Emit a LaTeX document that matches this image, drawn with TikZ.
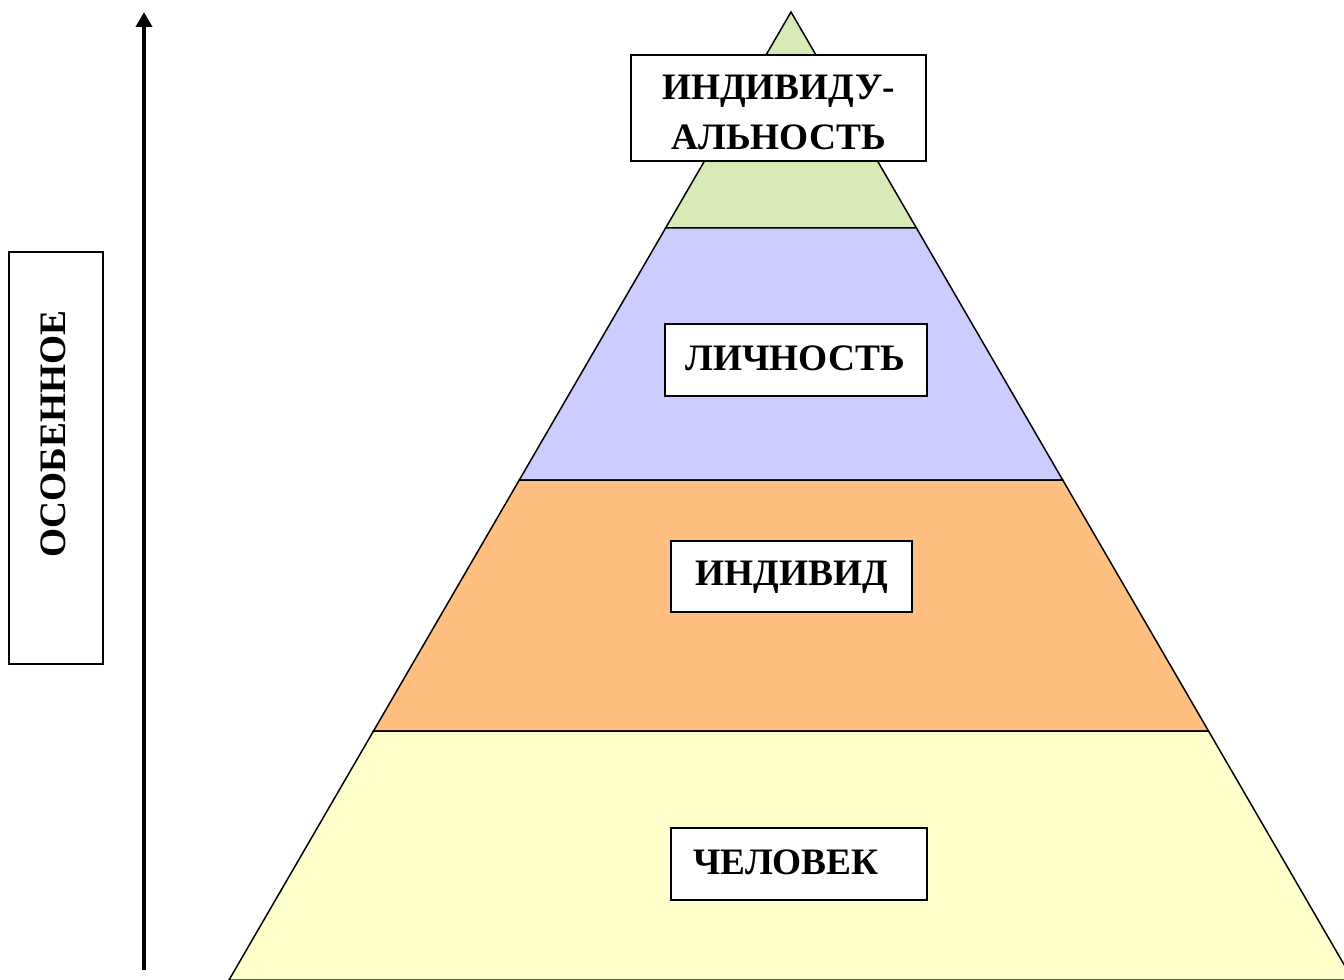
\documentclass[tikz,border=0pt]{standalone}
\usepackage{fontspec}
\setmainfont{Liberation Serif}
\usetikzlibrary{arrows.meta}
\definecolor{topgreen}{RGB}{216,234,182}
\definecolor{lilac}{RGB}{204,204,255}
\definecolor{peach}{RGB}{255,191,128}
\definecolor{cream}{RGB}{255,255,204}
\def\u{0.75pt}
\tikzset{
  layer/.style={draw=black, line width=1.5*\u, line join=miter},
  tag/.style={draw=black, fill=white, line width=2*\u, inner sep=0pt},
  word/.style={inner sep=0pt, anchor=base, font=\fontsize{28}{32}\selectfont\bfseries},
}
\begin{document}
\begin{tikzpicture}[x=\u, y=-\u]
\useasboundingbox (0,0) rectangle (1344,980);
% pyramid layers, top to bottom
\path[layer, fill=topgreen] (791,12) -- (916.4,228) -- (665.6,228) -- cycle;
\path[layer, fill=lilac] (665.6,228) -- (916.4,228) -- (1062.7,480) -- (519.3,480) -- cycle;
\path[layer, fill=peach] (519.3,480) -- (1062.7,480) -- (1208.5,731) -- (373.5,731) -- cycle;
\path[layer, fill=cream] (373.5,731) -- (1208.5,731) -- (1353,980) -- (229,980) -- cycle;
% label boxes
\node[tag, minimum width=295*\u, minimum height=106*\u] (indivbox) at (778.5,108) {};
\node[tag, minimum width=262*\u, minimum height=72*\u] (lichbox) at (796,360) {};
\node[tag, minimum width=241*\u, minimum height=71*\u] (indbox) at (791.5,576.5) {};
\node[tag, minimum width=256*\u, minimum height=72*\u] (chelbox) at (799,864) {};
\node[tag, minimum width=94*\u, minimum height=412*\u] (osobbox) at (56,458) {};
% label texts
\node[word] (indiv1) at (778.5,100) {ИНДИВИДУ-};
\node[word] (indiv2) at (778.5,150) {АЛЬНОСТЬ};
\node[word] (lich) at (795,370) {ЛИЧНОСТЬ};
\node[word] (ind) at (791.5,585.5) {ИНДИВИД};
\node[word] (chel) at (786,874.5) {ЧЕЛОВЕК};
\node[word, rotate=90] (osob) at (65,434) {ОСОБЕННОЕ};
% upward arrow
\coordinate (abot) at (144,970);
\coordinate (atop) at (144,12);
\draw[line width=4*\u, -{Triangle[length=15*\u, width=16*\u]}] (abot) -- (atop);
\end{tikzpicture}
\end{document}
